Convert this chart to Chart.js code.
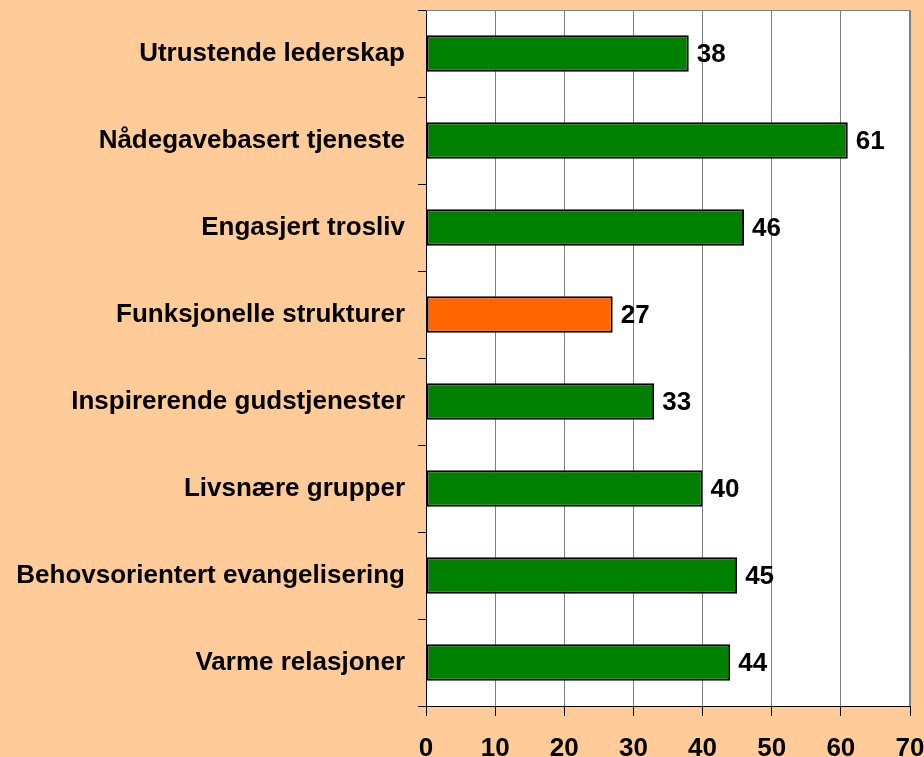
<!DOCTYPE html>
<html>
<head>
<meta charset="utf-8">
<title>Kvalitetsegenskaper</title>
<script src="https://cdn.jsdelivr.net/npm/chart.js"></script>
<style>
    html, body {
        margin: 0;
        padding: 0;
        background: #FFCC99;
    }
    .wrap {
        width: 924px;
        height: 757px;
    }
</style>
</head>
<body>
<div class="wrap"><canvas id="chart" width="924" height="757"></canvas></div>
<script>
// Data
const categories = [
    "Utrustende lederskap",
    "Nådegavebasert tjeneste",
    "Engasjert trosliv",
    "Funksjonelle strukturer",
    "Inspirerende gudstjenester",
    "Livsnære grupper",
    "Behovsorientert evangelisering",
    "Varme relasjoner"
];
const values = [38, 61, 46, 27, 33, 40, 45, 44];
const xTicks = [0, 10, 20, 30, 40, 50, 60, 70];

const GREEN = "#008000";
const ORANGE = "#FF6600";
const lowest = Math.min(...values);
const barColors = values.map(v => v === lowest ? ORANGE : GREEN);

const FONT = "'Liberation Sans', Arial, sans-serif";

// drop the extra room Chart.js keeps for overhanging tick labels
function noPadding(scale) {
    scale.paddingTop = 0;
    scale.paddingBottom = 0;
    scale.paddingLeft = 0;
    scale.paddingRight = 0;
}

// white plot area + gray frame on top/right
const plotFrame = {
    id: "plotFrame",
    beforeDraw(chart) {
        const { ctx, chartArea: a } = chart;
        ctx.save();
        ctx.fillStyle = "#FFFFFF";
        ctx.fillRect(a.left, a.top, a.right - a.left, a.bottom - a.top);
        ctx.restore();
    },
    afterDatasetsDraw(chart) {
        const { ctx, chartArea: a } = chart;
        ctx.save();
        ctx.strokeStyle = "#808080";
        ctx.lineWidth = 1;
        ctx.beginPath();
        ctx.moveTo(a.left, a.top + 0.5);
        ctx.lineTo(a.right - 0.5, a.top + 0.5);
        ctx.lineTo(a.right - 0.5, a.bottom);
        ctx.stroke();
        ctx.restore();
    }
};

// value labels at the end of each bar
const valueLabels = {
    id: "valueLabels",
    afterDatasetsDraw(chart) {
        const { ctx } = chart;
        const meta = chart.getDatasetMeta(0);
        ctx.save();
        ctx.fillStyle = "#000000";
        ctx.font = "bold 26px " + FONT;
        ctx.textAlign = "left";
        ctx.textBaseline = "middle";
        meta.data.forEach((bar, i) => {
            ctx.fillText(String(values[i]), bar.x + 8, bar.y + 1);
        });
        ctx.restore();
    }
};

new Chart(document.getElementById("chart"), {
    type: "bar",
    data: {
        labels: categories,
        datasets: [{
            data: values,
            backgroundColor: barColors,
            borderColor: "#000000",
            borderWidth: 2,
            borderSkipped: false,
            barPercentage: 0.42,
            categoryPercentage: 1
        }]
    },
    options: {
        indexAxis: "y",
        responsive: false,
        animation: false,
        devicePixelRatio: 1,
        layout: {
            padding: { top: 10, right: 14, left: 0, bottom: 0 }
        },
        plugins: {
            legend: { display: false },
            tooltip: { enabled: false }
        },
        scales: {
            x: {
                min: 0,
                max: 70,
                afterBuildTicks(scale) {
                    scale.ticks = xTicks.map(v => ({ value: v }));
                },
                afterFit(scale) {
                    scale.height = 51;
                    noPadding(scale);
                },
                grid: {
                    color: "#808080",
                    lineWidth: 1,
                    tickLength: 10,
                    tickColor: "#000000"
                },
                border: { color: "#000000", width: 1 },
                ticks: {
                    padding: 17,
                    maxRotation: 0,
                    color: "#000000",
                    font: { family: FONT, size: 26, weight: "bold" }
                }
            },
            y: {
                afterFit(scale) {
                    scale.width = 426;
                    noPadding(scale);
                },
                grid: {
                    offset: true,
                    drawOnChartArea: false,
                    tickLength: 8,
                    tickColor: "#000000"
                },
                border: { color: "#000000", width: 1 },
                ticks: {
                    padding: 13,
                    color: "#000000",
                    font: { family: FONT, size: 26, weight: "bold" }
                }
            }
        }
    },
    plugins: [plotFrame, valueLabels]
});
</script>
</body>
</html>
